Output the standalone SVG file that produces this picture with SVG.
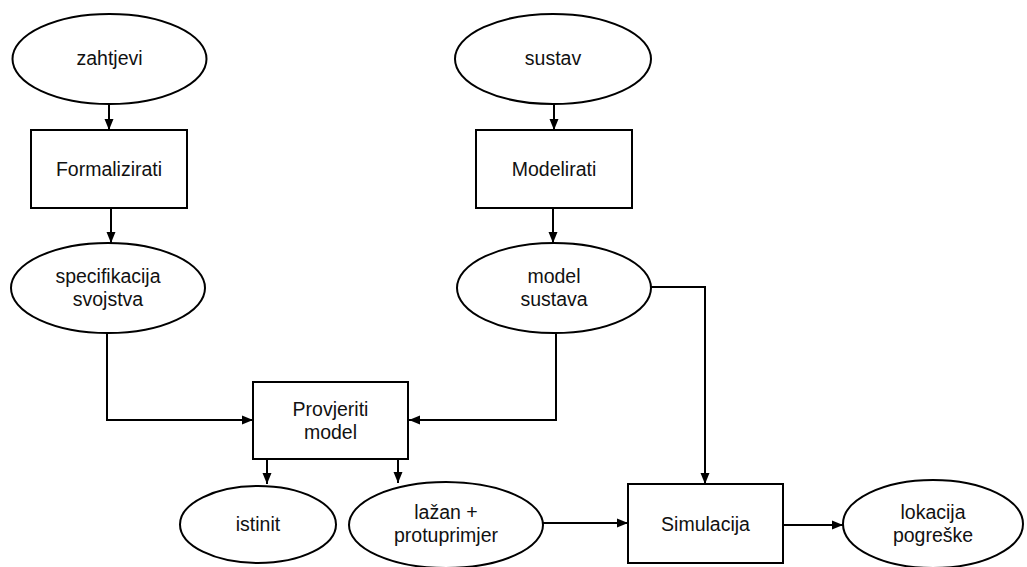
<svg xmlns="http://www.w3.org/2000/svg" width="1027" height="567" viewBox="0 0 1027 567">
<style>
.n{fill:#fff;stroke:#000;stroke-width:2}
.t{font-family:"Liberation Sans",Arial,sans-serif;font-size:19.5px;fill:#111;text-anchor:middle}
.c{fill:none;stroke:#000;stroke-width:2}
</style>
<defs>
<marker id="a" markerUnits="userSpaceOnUse" markerWidth="12" markerHeight="10" refX="11" refY="5" orient="auto">
<path d="M0,0.5 L11,5 L0,9.5 z" fill="#000"/>
</marker>
</defs>
<rect width="1027" height="567" fill="#fff"/>
<g id="connectors">
<path class="c" d="M109,104 V130" marker-end="url(#a)"/>
<path class="c" d="M111,208 V243" marker-end="url(#a)"/>
<path class="c" d="M554,104 V130" marker-end="url(#a)"/>
<path class="c" d="M553,208 V243" marker-end="url(#a)"/>
<path class="c" d="M107,333 V420 H253" marker-end="url(#a)"/>
<path class="c" d="M556,333 V420 H409" marker-end="url(#a)"/>
<path class="c" d="M651,287 H705 V484" marker-end="url(#a)"/>
<path class="c" d="M267,459 V484" marker-end="url(#a)"/>
<path class="c" d="M398,459 V483" marker-end="url(#a)"/>
<path class="c" d="M543,523 H628" marker-end="url(#a)"/>
<path class="c" d="M783,525 H843" marker-end="url(#a)"/>
</g>
<g id="zahtjevi"><ellipse class="n" cx="109.5" cy="59" rx="97" ry="45"/><text class="t" x="109.5" y="65">zahtjevi</text></g>
<g id="formalizirati"><rect class="n" x="31" y="130" width="156" height="78"/><text class="t" x="109" y="176">Formalizirati</text></g>
<g id="specifikacija"><ellipse class="n" cx="108" cy="288" rx="97" ry="45"/><text class="t" x="108" y="283">specifikacija</text><text class="t" x="108" y="306">svojstva</text></g>
<g id="sustav"><ellipse class="n" cx="553" cy="59" rx="98" ry="45"/><text class="t" x="553" y="65">sustav</text></g>
<g id="modelirati"><rect class="n" x="476" y="130" width="156" height="78"/><text class="t" x="554" y="176">Modelirati</text></g>
<g id="model-sustava"><ellipse class="n" cx="554" cy="288" rx="97" ry="45"/><text class="t" x="554" y="283">model</text><text class="t" x="554" y="306">sustava</text></g>
<g id="provjeriti"><rect class="n" x="253" y="382" width="155" height="77"/><text class="t" x="330.5" y="416">Provjeriti</text><text class="t" x="330.5" y="439">model</text></g>
<g id="istinit"><ellipse class="n" cx="258" cy="524.5" rx="78" ry="38.5"/><text class="t" x="258" y="531">istinit</text></g>
<g id="lazan"><ellipse class="n" cx="446" cy="525" rx="97" ry="43"/><text class="t" x="446" y="519">lažan +</text><text class="t" x="446" y="542">protuprimjer</text></g>
<g id="simulacija"><rect class="n" x="628" y="484" width="155" height="79"/><text class="t" x="705.5" y="531">Simulacija</text></g>
<g id="lokacija"><ellipse class="n" cx="933" cy="524" rx="90" ry="44"/><text class="t" x="933" y="519">lokacija</text><text class="t" x="933" y="542">pogreške</text></g>
</svg>
